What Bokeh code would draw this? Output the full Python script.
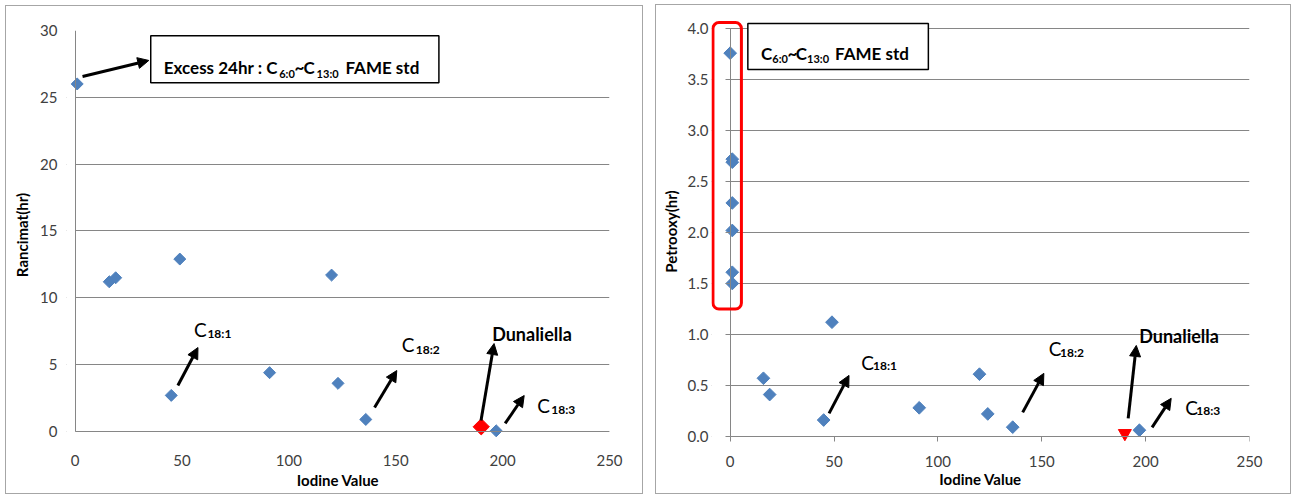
from bokeh.plotting import figure
from bokeh.models import (Range1d, BoxAnnotation, Label, Arrow, NormalHead, FixedTicker,
                          NumeralTickFormatter, LinearAxis)
from bokeh.layouts import row
from bokeh.embed import file_html
from bokeh.resources import INLINE
import numpy as np

# ---------------- data ----------------
x_ticks = [0, 50, 100, 150, 200, 250]
y1_ticks = [0, 5, 10, 15, 20, 25, 30]
y2_ticks = [0, 0.5, 1.0, 1.5, 2.0, 2.5, 3.0, 3.5, 4.0]

# Rancimat (left)
ran_iv = [1, 16, 19, 49, 45, 91, 120, 123, 136, 197]
ran_hr = [26.0, 11.2, 11.5, 12.9, 2.7, 4.4, 11.7, 3.6, 0.9, 0.05]
ran_dun_iv = [190]
ran_dun_hr = [0.35]

# Petrooxy (right)
pet_iv = [0, 1, 1, 1, 1, 1, 1, 16, 19, 49, 45, 91, 120, 124, 136, 197]
pet_hr = [3.76, 2.72, 2.69, 2.29, 2.02, 1.61, 1.50, 0.57, 0.41, 1.12, 0.16, 0.28, 0.61, 0.22, 0.09, 0.06]
pet_dun_iv = [190]
pet_dun_hr = [0.03]

BLUE = "#4F81BD"
RED = "#FF0000"
GRID = "#868686"
TICK_TXT = "#404040"
FONT = "Lato"


def base_fig(width, height, xmin, ymin, ymax, yline, borders, yticks, margin):
    mbl, mbr, mbt, mbb = borders
    p = figure(width=width, height=height, x_range=Range1d(xmin, 250), y_range=Range1d(ymin, ymax),
               output_backend="svg", toolbar_location=None,
               min_border_left=mbl, min_border_right=mbr, min_border_top=mbt, min_border_bottom=mbb,
               styles={"border": "1px solid #a6a6a6"}, margin=margin)
    p.frame_align = False
    p.outline_line_color = None
    p.background_fill_color = "white"
    p.border_fill_color = "white"
    p.xgrid.visible = False
    p.ygrid.ticker = FixedTicker(ticks=yticks)
    p.ygrid.grid_line_color = GRID
    p.ygrid.grid_line_width = 1
    p.ygrid.level = "image"
    xa, ya = p.below[0], p.left[0]
    xa.ticker = FixedTicker(ticks=x_ticks)
    ya.ticker = FixedTicker(ticks=yticks)
    for ax in (xa, ya):
        ax.axis_line_color = None
        ax.major_tick_line_color = None
        ax.minor_tick_line_color = None
        ax.major_tick_out = 0
        ax.major_tick_in = 0
        ax.minor_tick_out = 0
        ax.minor_tick_in = 0
        ax.major_label_text_font = FONT
        ax.major_label_text_font_size = "15px"
        ax.major_label_text_color = TICK_TXT
        ax.axis_label_text_font = FONT
        ax.axis_label_text_font_size = "15px"
        ax.axis_label_text_font_style = "bold"
        ax.axis_label_text_color = "black"
    # masks hiding grid lines outside the drawn axes (frame extended so markers are not cut)
    p.add_layout(BoxAnnotation(left=xmin, right=0, bottom=ymin, top=yline * 1.01, fill_color="white",
                               fill_alpha=1, line_color=None, level="underlay"))
    p.add_layout(BoxAnnotation(left=xmin, right=250, bottom=ymin, top=0, fill_color="white",
                               fill_alpha=1, line_color=None, level="underlay"))
    return p, xa, ya


def add_fixed_axes(p, ytop, yticks, tick_len):
    # axis lines through the origin; tick marks (if any) drawn as unlabeled minor ticks
    fx = LinearAxis(fixed_location=0, bounds=(0, 250),
                    ticker=FixedTicker(ticks=[], minor_ticks=x_ticks if tick_len else []))
    fy = LinearAxis(fixed_location=0, bounds=(0, ytop),
                    ticker=FixedTicker(ticks=[], minor_ticks=yticks if tick_len else []))
    for ax in (fx, fy):
        ax.axis_line_color = GRID
        ax.axis_line_width = 1
        ax.major_tick_line_color = None
        ax.major_tick_out = 0
        ax.major_tick_in = 0
        ax.minor_tick_line_color = GRID if tick_len else None
        ax.minor_tick_in = tick_len
        ax.minor_tick_out = 0
        ax.major_label_standoff = 0
    p.add_layout(fx, "above")
    p.add_layout(fy, "right")


def txt(p, text, x, y, size, bold=True):
    p.add_layout(Label(x=x, y=y, text=text, text_font=FONT, text_font_size=f"{size}px",
                       text_font_style="bold" if bold else "normal", text_color="black",
                       text_align="left", text_baseline="alphabetic"))


def arrow(p, x0, y0, x1, y1):
    p.add_layout(Arrow(end=NormalHead(size=11, fill_color="black", line_color="black"),
                       x_start=x0, y_start=y0, x_end=x1, y_end=y1,
                       line_color="black", line_width=3))


def chem(p, sub, x, y, xs, ys):
    txt(p, "C", x, y, 19, bold=False)
    txt(p, sub, xs, ys, 12, bold=True)


def box(p, l, r, t, b):
    p.add_layout(BoxAnnotation(left=l, right=r, top=t, bottom=b, fill_color="white", fill_alpha=1,
                               line_color="black", line_alpha=1, line_width=1.5))


# ---------------- left: Rancimat ----------------
p1, xa1, ya1 = base_fig(638, 489, -4, -0.6, 30, 30, (60, 35, 24, 56), y1_ticks, (5, 0, 0, 5))
xa1.major_label_standoff = 15
ya1.major_label_standoff = 9
xa1.axis_label = "Iodine Value"
ya1.axis_label = "Rancimat(hr)"
xa1.axis_label_standoff = 2
ya1.axis_label_standoff = 6
add_fixed_axes(p1, 30, y1_ticks, 0)

p1.scatter(ran_iv, ran_hr, marker="square", angle=np.pi / 4, size=8.5, fill_color=BLUE, line_color=BLUE)
p1.scatter(ran_dun_iv, ran_dun_hr, marker="square", angle=np.pi / 4, size=11.5, fill_color=RED, line_color=RED)

box(p1, 35.4, 170.2, 29.6, 26.1)
txt(p1, "Excess 24hr : C", 41.5, 27.23, 17)
txt(p1, "6:0", 95.5, 26.75, 11)
txt(p1, "~", 102.6, 27.23, 17)
txt(p1, "C", 106.9, 27.23, 17)
txt(p1, "13:0", 113.0, 26.75, 11)
txt(p1, "FAME std", 126.5, 27.23, 17)
arrow(p1, 3.5, 26.56, 34.5, 27.76)

chem(p1, "18:1", 55.6, 7.63, 61.9, 7.33)
arrow(p1, 48.1, 3.44, 57.5, 6.28)
chem(p1, "18:2", 152.8, 6.51, 159.4, 6.13)
arrow(p1, 140.1, 1.80, 150.5, 4.56)
txt(p1, "Dunaliella", 195.1, 7.33, 18)
arrow(p1, 189.9, 0.82, 196.0, 6.58)
chem(p1, "18:3", 216.2, 1.94, 222.8, 1.65)
arrow(p1, 201.2, 0.60, 210.1, 2.69)

# ---------------- right: Petrooxy ----------------
p2, xa2, ya2 = base_fig(636, 490, -9, -0.08, 4.1, 4.0, (55, 43, 13, 51), y2_ticks, (4, 0, 0, 12))
ya2.formatter = NumeralTickFormatter(format="0.0")
xa2.major_label_standoff = 11
ya2.major_label_standoff = 3
xa2.axis_label = "Iodine Value"
ya2.axis_label = "Petrooxy(hr)"
xa2.axis_label_standoff = 0
ya2.axis_label_standoff = 5
add_fixed_axes(p2, 4.0, y2_ticks, 5)

p2.scatter(pet_iv, pet_hr, marker="square", angle=np.pi / 4, size=9, fill_color=BLUE, line_color=BLUE)
p2.scatter(pet_dun_iv, pet_dun_hr, marker="inverted_triangle", size=13, fill_color=RED, line_color=RED)

p2.add_layout(BoxAnnotation(left=-8.3, right=5.4, top=4.06, bottom=1.25, fill_alpha=0,
                            line_color=RED, line_alpha=1, line_width=3, border_radius=6))
box(p2, 8.5, 95.4, 4.05, 3.6)
txt(p2, "C", 14.8, 3.755, 17)
txt(p2, "6:0", 20.3, 3.71, 11)
txt(p2, "~", 27.6, 3.755, 17)
txt(p2, "C", 31.5, 3.755, 17)
txt(p2, "13:0", 37.0, 3.71, 11)
txt(p2, "FAME std", 50.5, 3.755, 17)

chem(p2, "18:1", 63.1, 0.725, 68.8, 0.696)
arrow(p2, 47.6, 0.225, 57.2, 0.598)
chem(p2, "18:2", 153.4, 0.863, 158.8, 0.824)
arrow(p2, 140.8, 0.235, 151.0, 0.618)
txt(p2, "Dunaliella", 196.9, 0.98, 18)
arrow(p2, 191.6, 0.176, 195.5, 0.892)
chem(p2, "18:3", 219.1, 0.284, 224.4, 0.255)
arrow(p2, 203.1, 0.088, 212.3, 0.373)

layout = row(p1, p2)
open("out.html", "w").write(file_html(layout, INLINE))
